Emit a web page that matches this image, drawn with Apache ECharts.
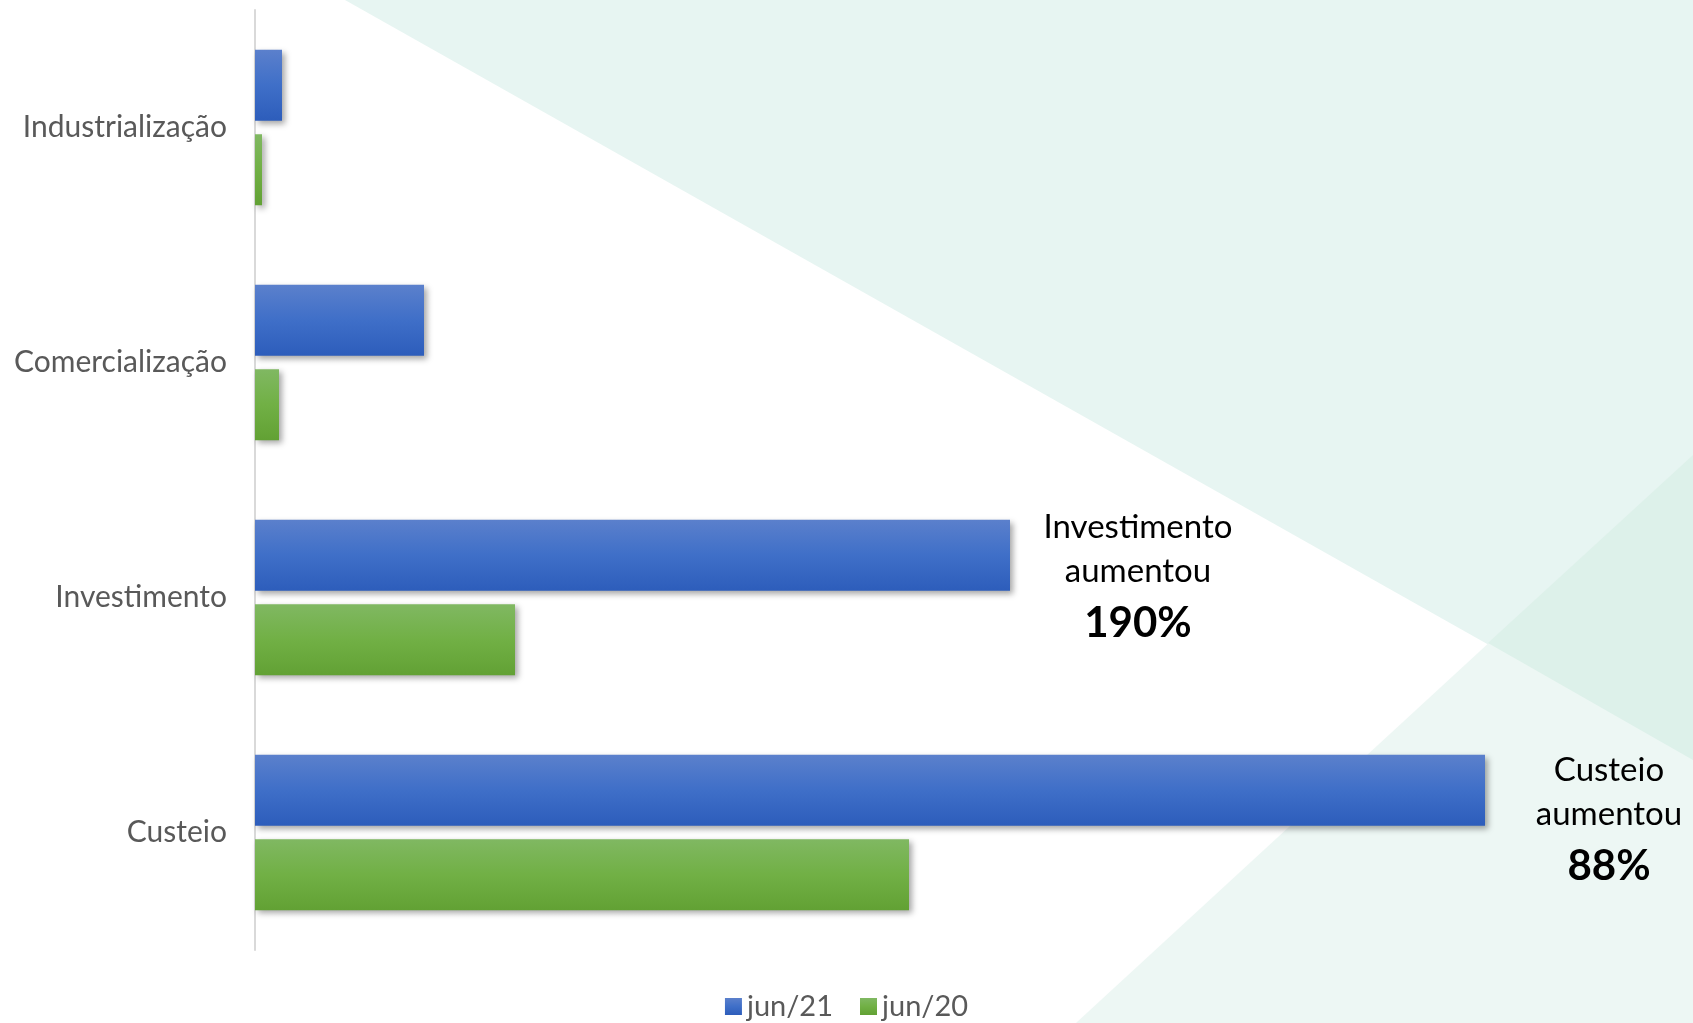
<!DOCTYPE html>
<html>
<head>
<meta charset="utf-8">
<script src="https://cdn.jsdelivr.net/npm/echarts@6/dist/echarts.min.js"></script>
<style>
  html, body { margin: 0; padding: 0; background: #fff; }
  #chart { width: 1693px; height: 1023px; }
</style>
</head>
<body>
<div id="chart"></div>
<script>
// linhas de crédito, de cima para baixo
const categories = ['Industrialização', 'Comercialização', 'Investimento', 'Custeio']
const jun21 = [2.7, 16.9, 75.5, 123.0]
const jun20 = [0.7, 2.4, 26.0, 65.4]
const seriesNames = ['jun/21', 'jun/20']
// notas ao lado das barras
const notes = [
  { title: 'Investimento', pct: '190%', x: 1138, y: 527 },
  { title: 'Custeio', pct: '88%', x: 1609, y: 770 }
]

const font = 'Lato, "Open Sans", sans-serif'

function grad (top, mid, bottom) {
  return {
    type: 'linear', x: 0, y: 0, x2: 0, y2: 1,
    colorStops: [
      { offset: 0, color: top },
      { offset: 0.5, color: mid },
      { offset: 1, color: bottom }
    ]
  }
}

const shadow = {
  shadowBlur: 6,
  shadowColor: 'rgba(0,0,0,0.35)',
  shadowOffsetX: 3,
  shadowOffsetY: 3
}

let graphics = [
  // fundo: faixas em verde claro
  { type: 'polygon', z: -10, silent: true, shape: { points: [[345, 0], [1693, 0], [1693, 760]] }, style: { fill: '#e7f5f2' } },
  { type: 'polygon', z: -10, silent: true, shape: { points: [[1076, 1023], [1693, 455], [1693, 1023]] }, style: { fill: '#edf7f4' } },
  { type: 'polygon', z: -9, silent: true, shape: { points: [[1488, 643], [1693, 455], [1693, 760]] }, style: { fill: '#ddf1ea' } }
]
notes.forEach(n => {
  graphics.push({
    type: 'text', z: 100, x: n.x, y: n.y,
    style: { text: n.title, font: '33px ' + font, fill: '#000', align: 'center', verticalAlign: 'middle' }
  })
  graphics.push({
    type: 'text', z: 100, x: n.x, y: n.y + 44,
    style: { text: 'aumentou', font: '33px ' + font, fill: '#000', align: 'center', verticalAlign: 'middle' }
  })
  graphics.push({
    type: 'text', z: 100, x: n.x, y: n.y + 96,
    style: { text: n.pct, font: 'bold 42px ' + font, fill: '#000', align: 'center', verticalAlign: 'middle' }
  })
})

const myChart = echarts.init(document.getElementById('chart'))
const option = {
  animation: false,
  backgroundColor: '#fff',
  grid: {
    left: 255,
    top: 10,
    width: 1300,
    height: 940
  },
  legend: {
    data: seriesNames,
    top: 987,
    left: 'center',
    icon: 'rect',
    itemWidth: 17,
    itemHeight: 17,
    itemGap: 27,
    textStyle: { fontFamily: font, fontSize: 29, color: '#595959' }
  },
  xAxis: {
    type: 'value',
    min: 0,
    max: 130,
    show: false
  },
  yAxis: {
    type: 'category',
    inverse: true,
    data: categories,
    axisLine: { lineStyle: { color: '#d9d9d9', width: 2 } },
    axisTick: { show: false },
    axisLabel: { fontFamily: font, fontSize: 30, color: '#595959', margin: 28 }
  },
  graphic: graphics,
  series: [
    {
      name: seriesNames[0],
      type: 'bar',
      data: jun21,
      barWidth: 71,
      barGap: '19%',
      itemStyle: Object.assign({ color: grad('#5b80cc', '#3f6fc8', '#2d5dbb') }, shadow)
    },
    {
      name: seriesNames[1],
      type: 'bar',
      data: jun20,
      barWidth: 71,
      barGap: '19%',
      itemStyle: Object.assign({ color: grad('#80b862', '#71b045', '#62a134') }, shadow)
    }
  ]
}
myChart.setOption(option)
</script>
</body>
</html>
